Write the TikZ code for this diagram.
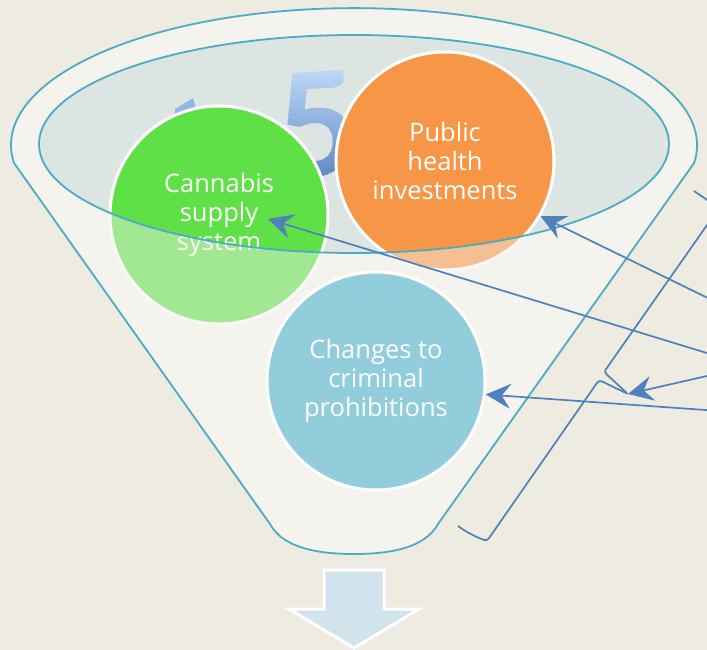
\documentclass[tikz,border=0pt]{standalone}
\usepackage{fontspec}
\setmainfont{Open Sans}
\newfontfamily\digitfont{Carlito}
\usetikzlibrary{arrows.meta}
\definecolor{bgc}{HTML}{EEEBE1}
\definecolor{bodyc}{HTML}{F4F3EE}
\definecolor{innerc}{HTML}{DDE5E2}
\definecolor{tealc}{HTML}{4BACC6}
\definecolor{arrowc}{HTML}{4F81BD}
\definecolor{greenc}{HTML}{5FE047}
\definecolor{orangec}{HTML}{F79646}
\definecolor{bluec}{HTML}{92CDDC}
\definecolor{downc}{HTML}{D1E3EB}
\definecolor{fivetop}{HTML}{BCD6F6}
\definecolor{fivebot}{HTML}{5A86C4}
\begin{document}
\begin{tikzpicture}[x=1pt,y=-1pt,
  bub/.style={circle, minimum size=218pt, inner sep=0pt, draw=white, line width=3pt,
    text=white, align=center, font=\fontsize{25.5}{29}\selectfont},
  rim/.style={draw=tealc, line width=1.8pt},
  conn/.style={draw=arrowc, line width=1.7pt, -{Stealth[length=25pt,width=25pt,inset=9pt]}},
  brk/.style={draw=arrowc, line width=1.7pt, rounded corners=3pt},
  fivedigit/.style={anchor=base, inner sep=0pt, rotate=4,
    font=\digitfont\bfseries\fontsize{160}{160}\selectfont}]
\useasboundingbox (0,0) rectangle (707,650);
\clip (0,0) rectangle (707,650);
\fill[bgc] (0,0) rectangle (707,650);
\def\funnelpath{(14,163) arc[start angle=187.5, end angle=-7.5, x radius=343pt, y radius=137pt]
  -- (438,524) .. controls (425,548) and (390,554) .. (354,554)
  .. controls (318,554) and (283,548) .. (270,524) -- cycle}
% funnel body
\fill[bodyc] \funnelpath;
% inner surface
\fill[innerc] (354,144) ellipse [x radius=315pt, y radius=109pt];
% decorative digits
\fill[fivetop!60!fivebot] (174,122) -- (175,109) -- (193,98) -- (200,122) -- cycle;
\foreach \i in {0,...,19}{
  \pgfmathtruncatemacro\pct{100-5*\i}
  \begin{scope}
    \clip (240,{70+5.5*\i}) rectangle (380,{76.5+5.5*\i});
    \node[fivedigit, text=fivetop!\pct!fivebot] (five\i) at (322,176) {5};
  \end{scope}
}
% circles inside the funnel
\node[bub, fill=greenc] (cann) at (219,215) {Cannabis\\supply\\system};
\node[bub, fill=orangec] (pub) at (445,161) {Public\\health\\investments};
% translucent front of funnel
\fill[bodyc, opacity=0.45, even odd rule] \funnelpath (354,144) ellipse [x radius=315pt, y radius=109pt];
% outlines
\draw[rim] (354,144) ellipse [x radius=315pt, y radius=109pt];
\draw[rim] \funnelpath;
% front circle
\node[bub, fill=bluec] (chg) at (376,381) {Changes to\\criminal\\prohibitions};
% bracket
\coordinate (btip) at (628,394);
\draw[brk] (694,191) -- (719,208) -- (604,372) -- (btip) -- (599,380) -- (487,541)
  .. controls (476,537) and (466,532) .. (458,526);
% connectors
\coordinate (s1) at (720,304);
\coordinate (s2) at (720,357);
\coordinate (s3) at (720,373);
\coordinate (s4) at (720,411);
\coordinate (gtip) at (268,219);
\draw[conn] (s1) -- (pub.-30);
\draw[conn] (s2) -- (gtip);
\draw[conn] (s3) -- (btip);
\draw[conn] (s4) -- (chg.-7);
% down arrow
\filldraw[fill=downc, draw=white, line width=3pt, line join=miter]
  (324,570) -- (384,570) -- (384,609) -- (419,609) -- (354,648) -- (289,609) -- (324,609) -- cycle;
\end{tikzpicture}
\end{document}
